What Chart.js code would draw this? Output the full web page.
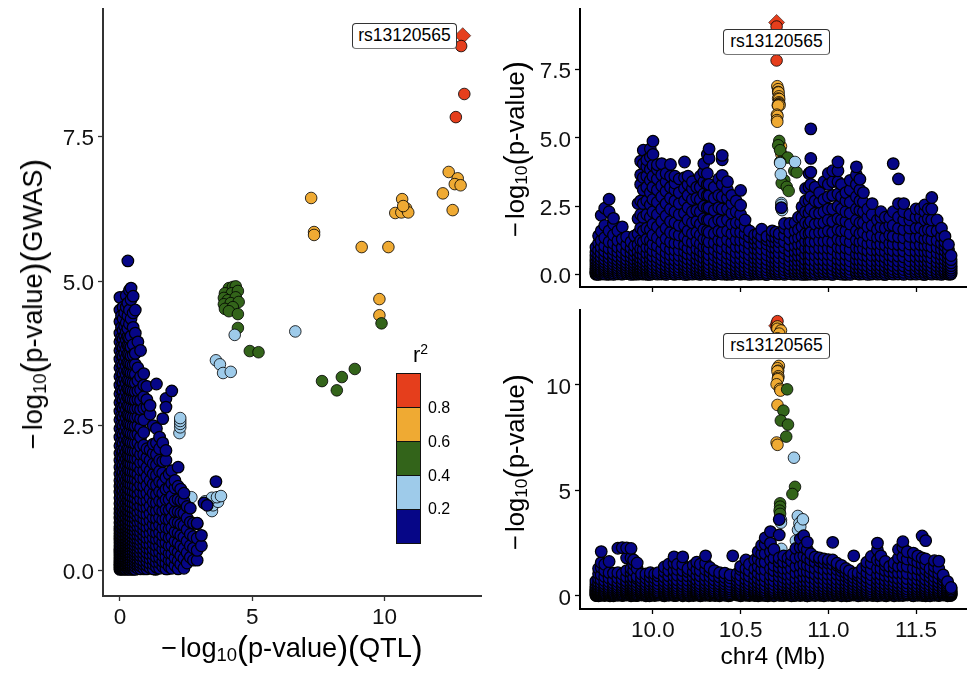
<!DOCTYPE html>
<html><head><meta charset="utf-8">
<script src="https://cdn.jsdelivr.net/npm/chart.js@4"></script>
<style>
html,body{margin:0;padding:0;background:#fff;overflow:hidden}
body{width:979px;height:678px;position:relative;font-family:"Liberation Sans",Arial,sans-serif;color:#000}
canvas{position:absolute}
.t{position:absolute;font-size:26px;white-space:nowrap;line-height:30px;transform:translate(-50%,-50%)}
.t.r{transform:translate(-50%,-50%) rotate(-90deg)}
.t sub{font-size:.68em;line-height:0;vertical-align:-.2em}
.t .p{font-size:1.2em;line-height:0;vertical-align:-.07em}
.t .m{margin-right:3px}
.lab{position:absolute;box-sizing:border-box;background:#fff;border:1px solid #333;border-bottom:1.5px solid #777;border-radius:4px;font-size:17.5px;line-height:23px;text-align:center;white-space:nowrap}
.cb{position:absolute;left:396px;width:25px;box-sizing:border-box;border:1.5px solid #111}
.cbl{position:absolute;left:428px;font-size:16px;line-height:18px}
</style></head><body>
<canvas id="cL" width="490" height="678" style="left:0;top:0"></canvas>
<canvas id="cT" width="489" height="298" style="left:490px;top:0"></canvas>
<canvas id="cB" width="489" height="380" style="left:490px;top:298px"></canvas>
<div id="overlay"></div>
<script>
const rsid="rs13120565";
const legendColors=["#E53E1C","#EFAA33","#33641A","#9ECBEA","#060687"];
const legendLabels=["0.8","0.6","0.4","0.2"];
const ticksLeftX=[0,5,10], ticksLeftY=[0,2.5,5,7.5];
const ticksPosX=[10,10.5,11,11.5], ticksTopY=[0,2.5,5,7.5], ticksBotY=[0,5,10];

// scatter panel: QTL vs GWAS
const leadL=[[12.96,9.25]];
const redL=[[12.9,9.07],[13.02,8.24],[12.7,7.84]];
const orangeL=[[7.23,6.44],[7.34,5.85],[7.34,5.80],[9.14,5.59],[10.15,5.59],[9.81,4.69],[9.81,4.41],[10.67,6.42],[10.41,6.18],[10.64,6.19],[10.82,6.26],[10.9,6.19],[10.71,6.30],[12.21,6.52],[12.43,6.89],[12.77,6.78],[12.66,6.68],[12.88,6.66],[12.58,6.23]];
const greenL=[[9.89,4.27],[4.12,4.88],[4.27,4.90],[4.38,4.91],[3.97,4.79],[4.23,4.79],[4.46,4.83],[3.93,4.71],[4.08,4.67],[4.38,4.72],[3.93,4.60],[4.19,4.62],[4.49,4.64],[3.97,4.52],[4.27,4.55],[4.12,4.48],[4.46,4.43],[4.46,4.19],[4.91,3.79],[5.24,3.77],[7.64,3.27],[8.39,3.34],[8.88,3.48],[8.20,3.11]];
const lightL=[[4.34,4.07],[6.63,4.13],[3.63,3.63],[3.78,3.56],[3.90,3.41],[4.19,3.43],[2.25,2.37],[2.28,2.47],[2.28,2.53],[2.28,2.58],[2.28,2.63],[2.70,1.26],[3.48,1.02],[3.22,1.19],[3.37,1.16],[3.52,1.12],[3.71,1.18],[3.48,1.25],[3.67,1.26],[3.82,1.28]];
const blueL=[
[0,[.01,.04,.07,.1,.14,.17,.21,.25,.29,.33,.37,.42,.47,.52,.57,.63,.69,.75,.82,.9,.98,1.06,1.15,1.25,1.35,1.45,1.55,1.66,1.78,1.9,2.02,2.15,2.3,2.45,2.6,2.75,2.9,3.05,3.2,3.35,3.5,3.65,3.8,3.95,4.1,4.3,4.5,4.72]],
[.06,[.02,.05,.09,.12,.16,.2,.23,.27,.31,.36,.4,.45,.5,.55,.6,.66,.72,.79,.86,.94,1.02,1.11,1.2,1.3,1.4,1.5,1.6,1.72,1.84,1.96,2.08,2.22,2.37,2.52,2.67,2.82,2.97,3.12,3.27,3.42,3.57,3.72,3.87,4.02,4.2,4.4]],
[.12,[.01,.03,.06,.1,.13,.18,.22,.26,.3,.34,.39,.44,.49,.54,.59,.65,.71,.77,.84,.92,1,1.09,1.18,1.28,1.38,1.48,1.58,1.7,1.82,1.94,2.06,2.2,2.35,2.5,2.65,2.8,2.95,3.1,3.25,3.4,3.55,3.7,3.85,4,4.15,4.35,4.55]],
[.18,[.02,.04,.08,.11,.15,.19,.24,.28,.32,.37,.41,.46,.51,.56,.62,.68,.74,.81,.88,.96,1.04,1.13,1.22,1.32,1.42,1.52,1.63,1.75,1.87,1.99,2.11,2.25,2.4,2.55,2.7,2.85,3,3.15,3.3,3.45,3.6,3.75,3.9,4.05,4.22,4.45]],
[.24,[.01,.05,.07,.12,.16,.2,.25,.29,.34,.38,.43,.48,.53,.58,.64,.7,.76,.83,.91,.99,1.07,1.16,1.26,1.36,1.46,1.56,1.68,1.8,1.92,2.04,2.18,2.33,2.48,2.63,2.78,2.93,3.08,3.23,3.38,3.53,3.68,3.83,3.98,4.12,4.28,4.55,4.75]],
[.3,[.02,.06,.09,.13,.18,.22,.27,.31,.36,.4,.45,.5,.56,.61,.67,.73,.8,.87,.95,1.03,1.12,1.21,1.31,1.41,1.51,1.62,1.74,1.86,1.98,2.1,2.24,2.39,2.54,2.69,2.84,2.99,3.14,3.29,3.44,3.59,3.74,3.89,4.04,4.18,4.4,4.62,5.35]],
[.36,[.01,.04,.08,.12,.17,.21,.26,.3,.35,.39,.44,.49,.55,.6,.66,.72,.78,.85,.93,1.01,1.1,1.19,1.29,1.39,1.49,1.6,1.73,1.85,1.97,2.09,2.23,2.38,2.53,2.68,2.83,2.98,3.13,3.28,3.43,3.58,3.73,3.88,4.02,4.26,4.5,4.84]],
[.42,[.03,.06,.1,.15,.19,.24,.28,.33,.38,.43,.48,.53,.59,.65,.71,.77,.84,.92,1,1.08,1.17,1.27,1.37,1.48,1.59,1.71,1.83,1.95,2.07,2.21,2.36,2.51,2.66,2.81,2.96,3.11,3.26,3.41,3.56,3.71,3.86,4.05,4.35,4.68,4.88]],
[.5,[.02,.05,.09,.14,.19,.23,.28,.33,.39,.44,.5,.56,.62,.69,.75,.82,.9,.98,1.06,1.15,1.25,1.36,1.47,1.58,1.7,1.82,1.94,2.06,2.2,2.35,2.5,2.65,2.8,2.95,3.1,3.25,3.4,3.55,3.72,3.9,4.2,4.45,4.74]],
[.58,[.01,.06,.11,.16,.21,.26,.31,.37,.42,.48,.54,.6,.67,.74,.81,.89,.97,1.05,1.14,1.24,1.34,1.45,1.57,1.69,1.81,1.93,2.05,2.19,2.34,2.49,2.64,2.79,2.94,3.09,3.24,3.39,3.56,3.75,4.1,4.5]],
[.68,[.03,.08,.13,.18,.24,.29,.35,.41,.47,.53,.6,.68,.75,.83,.92,1,1.1,1.2,1.31,1.42,1.54,1.66,1.79,1.92,2.05,2.2,2.35,2.5,2.65,2.8,2.95,3.1,3.28,3.5,3.95]],
[.78,[.02,.07,.12,.18,.24,.3,.37,.44,.51,.58,.66,.74,.83,.92,1.02,1.12,1.23,1.35,1.47,1.6,1.73,1.86,2,2.14,2.3,2.46,2.62,2.78,2.94,3.12,3.35,3.8]],
[.9,[.03,.09,.15,.22,.29,.36,.44,.52,.6,.69,.78,.88,.98,1.09,1.2,1.32,1.45,1.58,1.72,1.86,2,2.16,2.38,2.6,2.8,3,3.2,3.4]],
[1.02,[.02,.08,.15,.22,.3,.38,.46,.55,.64,.74,.85,.96,1.08,1.2,1.33,1.47,1.62,1.78,1.95,2.1,2.82,2.95,3.18]],
[1.14,[.04,.11,.19,.27,.35,.44,.54,.64,.75,.86,.98,1.11,1.25,1.39,1.55,1.72,1.9,2.08,2.7,2.85]],
[1.26,[.02,.1,.18,.27,.36,.46,.56,.67,.79,.91,1.04,1.18,1.33,1.49,1.66,1.84,2.02,2.18,2.5]],
[1.38,[.05,.13,.22,.32,.42,.53,.64,.76,.89,1.02,1.16,1.31,1.47,1.64,1.82,2,2.2,2.45,3.22]],
[1.5,[.03,.12,.21,.31,.42,.53,.65,.78,.91,1.05,1.2,1.36,1.53,1.71,1.9,2.1,2.3]],
[1.62,[.06,.15,.25,.36,.48,.6,.73,.87,1.02,1.17,1.33,1.5,1.68,1.88,2.2,2.62]],
[1.74,[.02,.12,.23,.35,.47,.6,.74,.89,1.05,1.22,1.4,1.6,1.9,2.07,2.97,2.82]],
[1.86,[.06,.17,.29,.42,.56,.71,.87,1.04,1.22,1.42,1.66]],
[1.96,[.03,.15,.28,.42,.57,.73,.9,1.08,1.28,1.5,1.72,3.1]],
[2.08,[.08,.21,.35,.5,.66,.83,1.01,1.2,1.42,1.55]],
[2.2,[.02,.16,.31,.47,.64,.82,1.01,1.22,1.45,1.78]],
[2.3,[.1,.25,.42,.6,.79,.99,1.2,1.4]],
[2.42,[.03,.2,.38,.57,.77,.98,1.2,1.33]],
[2.54,[.12,.3,.5,.7,.9,1.1]],
[2.66,[.22,.42,.62,.83,1.07]],
[2.78,[.17,.38,.58,.81]],
[2.92,[.17,.34,.55,.8,.81]],
[3.08,[.42,.6]],[3.18,[1.16]],[3.3,[1.12]],[3.63,[1.53]]
];
const denseL=[
[.03,[.02,.04,.06,.08,.1,.12,.14,.16,.18,.2,.22,.24,.26,.28,.3,.32,.34,.36,.38,.4,.42,.44,.46,.48,.5,.52,.54,.56,.58,.6,.62,.64,.66,.68,.7,.72,.74,.76,.78,.8,.82,.84,.86,.88,.9,.92,.94,.96,.98,1,1.02,1.04,1.06,1.08,1.1,1.12,1.14,1.16,1.18,1.2,1.22,1.24,1.26,1.28,1.3,1.32,1.34,1.36,1.38,1.4,1.42,1.44,1.46,1.48,1.5]],
[.47,[.01,.03,.05,.07,.09,.11,.13,.15,.17,.19,.21,.23,.25,.27,.29,.31,.33,.35,.37,.39,.41,.43,.45,.47,.49,.51,.53,.55,.57,.59,.61,.63,.65,.67,.69,.71,.73,.75,.77,.79,.81,.83,.85,.87,.89,.91,.93,.95,.97,.99,1.01,1.03,1.05,1.07,1.09,1.11,1.13,1.15,1.17,1.19,1.21,1.23,1.25]],
[.91,[.02,.04,.06,.08,.1,.12,.14,.16,.18,.2,.22,.24,.26,.28,.3,.32,.34,.36,.38,.4,.42,.44,.46,.48,.5,.52,.54,.56,.58,.6,.62,.64,.66,.68,.7,.72,.74,.76,.78,.8,.82,.84,.86]],
[1.35,[.01,.03,.05,.07,.09,.11,.13,.15,.17,.19,.21,.23,.25,.27,.29,.31,.33,.35,.37,.39,.41]],
[1.8,[.02,.05,.08,.11,.14,.17,.2,.23,.26]]
];

// position panels
const leadT=[[10.705,9.22]];
const redT=[[10.705,9.07],[10.705,8.24],[10.705,7.83]];
const orangeT=[[10.709,6.89],[10.714,6.78],[10.714,6.68],[10.716,6.66],[10.718,6.52],[10.714,6.44],[10.72,6.42],[10.718,6.30],[10.72,6.26],[10.718,6.23],[10.712,6.19],[10.722,6.19],[10.714,6.18],[10.707,5.85],[10.71,5.80],[10.707,5.65],[10.709,5.59],[10.73,4.69],[10.732,4.41]];
const greenT=[[10.72,4.89],[10.714,4.73],[10.725,4.55],[10.768,4.28],[10.725,4.12],[10.806,3.79],[10.82,3.74],[10.749,3.45],[10.734,3.35],[10.763,3.21],[10.774,3.06]];
const lightT=[[10.81,4.12],[10.725,4.08],[10.729,3.67],[10.732,2.62],[10.732,2.55],[10.736,2.36],[10.831,1.26],[10.845,1.24],[10.822,1.2],[10.837,1.02]];
const blueT=[
[9.675,[.02,.06,.11,.16,.22,.29,.37,.46,.56,.68,.82,1]],
[9.69,[.01,.08,.13,.19,.25,.33,.41,.5,.61,.74,.9,1.15,1.42]],
[9.705,[.03,.07,.12,.18,.26,.34,.43,.53,.65,.8,1,1.25,1.6,2.17]],
[9.725,[.02,.09,.15,.21,.28,.36,.46,.57,.7,.86,1.05,1.35,1.8,2.43]],
[9.75,[.04,.1,.16,.23,.31,.4,.5,.62,.76,.95,1.2,1.6,2.76,2.3]],
[9.775,[.01,.07,.14,.21,.29,.38,.49,.61,.75,.92,1.15,1.45,1.85,2.06]],
[9.8,[.03,.09,.16,.24,.33,.43,.54,.67,.83,1,1.25,1.6]],
[9.825,[.02,.08,.15,.23,.32,.42,.53,.66,.81,1,1.3,1.75]],
[9.85,[.04,.1,.17,.25,.34,.44,.56,.7,.86,1.1,1.38]],
[9.875,[.01,.07,.13,.21,.3,.4,.51,.64,.79,.98,1.2]],
[9.895,[.03,.09,.16,.24,.33,.43,.55,.69,.85,1.05,1.42]],
[9.915,[.02,.08,.14,.22,.31,.41,.53,.67,.85,1.1,1.5,2.05,2.6]],
[9.93,[.04,.1,.17,.25,.35,.46,.59,.75,.95,1.25,1.7,2.2,2.7,3.3,3.65,4.15]],
[9.945,[.02,.07,.14,.22,.32,.43,.56,.72,.92,1.2,1.6,2.1,2.6,3.1,3.55,4.05,4.55]],
[9.965,[.03,.09,.16,.24,.34,.46,.6,.78,1,1.3,1.7,2.2,2.7,3.2,3.6,3.95,4.2]],
[9.985,[.01,.08,.15,.23,.33,.45,.59,.76,.98,1.25,1.65,2.1,2.55,3,3.45,3.85,4.3,4.6]],
[10,[.04,.1,.18,.27,.38,.51,.67,.87,1.12,1.45,1.85,2.3,2.75,3.2,3.6,4,4.4,4.88]],
[10.025,[.02,.08,.15,.24,.35,.48,.63,.82,1.05,1.35,1.75,2.2,2.65,3.1,3.5,3.85,4.02]],
[10.05,[.03,.1,.18,.28,.4,.54,.71,.92,1.2,1.55,1.95,2.4,2.85,3.25,3.65,4.06]],
[10.075,[.01,.07,.14,.23,.34,.47,.62,.8,1.03,1.32,1.7,2.15,2.6,3.05,3.4,3.7]],
[10.1,[.04,.11,.19,.29,.41,.55,.72,.93,1.2,1.55,1.95,2.4,2.8,3.2,3.6,4.03]],
[10.125,[.02,.09,.17,.27,.39,.53,.7,.9,1.15,1.5,1.9,2.3,2.7,3.1,3.35,3.6]],
[10.15,[.03,.1,.18,.28,.4,.54,.7,.9,1.15,1.45,1.8,2.2,2.6,3,3.5]],
[10.18,[.01,.08,.16,.25,.36,.49,.65,.84,1.08,1.4,1.8,2.25,2.7,3.15,3.55,4.12]],
[10.2,[.04,.11,.2,.3,.42,.57,.75,.97,1.25,1.6,2,2.45,2.9,3.3,3.6]],
[10.225,[.02,.09,.17,.27,.39,.53,.7,.91,1.18,1.5,1.9,2.3,2.75,3.15,3.4]],
[10.25,[.03,.1,.19,.29,.41,.56,.74,.95,1.22,1.55,1.95,2.35,2.8,3.2]],
[10.27,[.01,.07,.15,.25,.37,.51,.68,.88,1.13,1.45,1.85,2.3,2.75,3.2,3.6]],
[10.29,[.04,.11,.2,.31,.44,.6,.79,1.02,1.3,1.65,2.05,2.5,2.95,3.4,3.75,4.06]],
[10.31,[.02,.09,.18,.29,.42,.58,.77,1,1.28,1.6,2,2.45,2.9,3.3,3.7,4.4]],
[10.32,[.03,.1,.18,.28,.4,.55,.73,.95,1.2,1.55,2,2.45,2.9,3.3,4.25,4.6]],
[10.35,[.01,.08,.16,.26,.38,.53,.71,.92,1.17,1.5,1.9,2.35,2.8,3.2]],
[10.375,[.04,.11,.2,.31,.44,.6,.78,1,1.27,1.6,2,2.45,2.9,3.5]],
[10.395,[.02,.09,.17,.27,.4,.55,.73,.95,1.22,1.55,1.95,2.4,2.85,3.3,3.63,4.2,4.36]],
[10.425,[.03,.1,.19,.3,.43,.59,.78,1,1.28,1.6,2,2.4,2.8,3.1,3.4]],
[10.45,[.01,.08,.16,.26,.39,.54,.72,.93,1.18,1.5,1.85,2.25,2.6,2.9]],
[10.475,[.04,.11,.2,.31,.45,.61,.8,1.02,1.28,1.58,1.9,2.3,2.7]],
[10.5,[.02,.09,.18,.29,.42,.58,.77,.99,1.25,1.55,1.9,2.2,2.54,3.08]],
[10.525,[.03,.1,.19,.3,.44,.6,.79,1,1.25,1.5,1.75,2]],
[10.55,[.01,.08,.17,.28,.41,.56,.73,.93,1.15,1.38,1.6]],
[10.58,[.04,.11,.2,.31,.44,.59,.76,.95,1.15,1.3,1.45]],
[10.6,[.02,.09,.18,.29,.42,.56,.72,.9,1.1,1.3,1.5]],
[10.62,[.03,.1,.19,.3,.43,.58,.75,.94,1.15,1.4,1.66]],
[10.65,[.01,.08,.17,.28,.41,.56,.73,.92,1.12,1.28,1.4]],
[10.68,[.04,.12,.21,.32,.46,.62,.8,1,1.2,1.4,1.6]],
[10.7,[.02,.09,.18,.3,.43,.58,.76,.96,1.16,1.35,1.55]],
[10.72,[.03,.11,.2,.32,.46,.62,.8,1,1.2,1.36,1.5]],
[10.732,[2.45]],
[10.75,[.01,.08,.18,.3,.44,.6,.78,.98,1.2,1.45,1.7,1.87]],
[10.78,[.04,.12,.22,.35,.5,.67,.86,1.06,1.3,1.55,1.87]],
[10.81,[.02,.1,.2,.33,.48,.65,.84,1.05,1.3,1.6,1.9]],
[10.83,[.03,.11,.21,.34,.5,.68,.88,1.1,1.35,1.65,2.1]],
[10.85,[.01,.09,.19,.32,.48,.66,.87,1.1,1.4,1.75,2.1,2.48]],
[10.87,[.04,.12,.23,.37,.54,.74,.96,1.22,1.5,1.9,2.3,2.7,3.15]],
[10.89,[.02,.1,.21,.35,.52,.72,.95,1.2,1.5,1.85,2.25,2.7,3.2,3.7]],
[10.9,[.03,.11,.22,.36,.53,.73,.96,1.22,1.55,1.95,2.4,2.85,3.3,3.75,4.25,5.33]],
[10.925,[.01,.09,.2,.34,.51,.71,.94,1.2,1.5,1.85,2.25,2.7,3.2]],
[10.95,[.04,.12,.23,.37,.54,.75,.98,1.25,1.55,1.9,2.25,2.65,3]],
[10.975,[.02,.1,.21,.35,.52,.72,.95,1.22,1.55,1.9,2.3,2.75,3.4]],
[11,[.03,.11,.22,.36,.53,.74,.97,1.25,1.6,2,2.4,2.85,3.3,3.7]],
[11.025,[.01,.09,.2,.34,.51,.71,.94,1.2,1.55,1.95,2.4,2.9,3.4,3.8]],
[11.055,[.04,.12,.23,.37,.55,.76,1,1.3,1.65,2.05,2.5,2.95,3.4,3.8,4.12]],
[11.075,[.02,.1,.21,.35,.52,.72,.96,1.25,1.6,2,2.4,2.85,3.3]],
[11.1,[.03,.11,.22,.36,.53,.74,.98,1.27,1.6,1.95,2.3,2.7,3]],
[11.125,[.01,.09,.2,.33,.5,.7,.93,1.2,1.5,1.85,2.25,2.65,3.1,3.45]],
[11.16,[.04,.12,.23,.37,.55,.75,.99,1.27,1.6,2,2.4,2.85,3.3,3.65,3.94]],
[11.18,[.02,.1,.21,.35,.51,.71,.94,1.2,1.5,1.9,2.35,2.7,3.1,3.49]],
[11.2,[.03,.11,.22,.35,.52,.72,.95,1.22,1.55,1.9,2.3,2.65,3]],
[11.225,[.01,.09,.19,.32,.48,.67,.88,1.13,1.42,1.75,2.1,2.4]],
[11.25,[.04,.12,.22,.35,.51,.7,.91,1.15,1.45,1.8,2.2,2.6]],
[11.28,[.02,.1,.2,.33,.48,.66,.87,1.1,1.35,1.65,2]],
[11.3,[.03,.11,.21,.34,.5,.68,.89,1.12,1.4,1.75,2.1,2.3]],
[11.325,[.01,.09,.19,.31,.46,.64,.85,1.08,1.35,1.7,2.1]],
[11.35,[.04,.12,.22,.35,.51,.7,.91,1.15,1.45,1.8,2.1]],
[11.37,[.02,.1,.2,.33,.49,.67,.88,1.12,1.4,1.8,2.3,4.06]],
[11.4,[.03,.11,.21,.34,.5,.68,.88,1.1,1.38,1.7,2.1,2.6,3.5]],
[11.43,[.01,.09,.19,.32,.47,.65,.86,1.08,1.35,1.65,2,2.3,2.6]],
[11.465,[.04,.12,.22,.35,.51,.69,.9,1.12,1.4,1.7,2,2.2]],
[11.5,[.02,.1,.2,.32,.47,.65,.85,1.08,1.35,1.7,2.1,2.4]],
[11.525,[.03,.11,.21,.34,.49,.67,.87,1.1,1.38,1.72,2.1,2.4]],
[11.55,[.01,.09,.19,.31,.46,.63,.83,1.05,1.3,1.6,2,2.3,2.55]],
[11.57,[.04,.11,.21,.33,.48,.65,.84,1.06,1.32,1.65,2.05,2.4]],
[11.59,[.02,.09,.18,.3,.44,.61,.8,1.02,1.28,1.6,2,2.4,2.82]],
[11.62,[.03,.1,.2,.32,.46,.62,.8,1,1.25,1.6,2]],
[11.645,[.01,.08,.17,.28,.41,.56,.73,.93,1.15,1.4,1.7]],
[11.665,[.04,.1,.18,.29,.41,.55,.7,.88,1.05,1.2,1.4]],
[11.685,[.02,.08,.15,.24,.34,.46,.6,.75,.9,1.1]],
[11.7,[.03,.09,.16,.24,.33,.43,.55,.7]]
];
const denseT=[
[9.68,[.02,.06,.1,.14,.18,.22,.26,.3,.34,.38,.42,.46]],[9.745,[.01,.05,.09,.13,.17,.21,.25,.29,.33,.37,.41,.45,.49]],[9.82,[.03,.07,.11,.15,.19,.23,.27,.31,.35,.39,.43]],[9.895,[.02,.06,.1,.14,.18,.22,.26,.3,.34,.38,.42,.46]],[9.97,[.01,.05,.09,.13,.17,.21,.25,.29,.33,.37,.41,.45,.5,.55]],[10.045,[.03,.07,.11,.15,.19,.23,.27,.31,.35,.39,.43,.47,.52]],[10.12,[.02,.06,.1,.14,.18,.22,.26,.3,.34,.38,.42,.46]],[10.195,[.01,.05,.09,.13,.17,.21,.25,.29,.33,.37,.41,.45,.5]],[10.27,[.03,.07,.11,.15,.19,.23,.27,.31,.35,.39,.43,.47]],[10.345,[.02,.06,.1,.14,.18,.22,.26,.3,.34,.38,.42,.46,.51]],[10.42,[.01,.05,.09,.13,.17,.21,.25,.29,.33,.37,.41,.45]],[10.495,[.03,.07,.11,.15,.19,.23,.27,.31,.35,.39,.43,.47]],[10.57,[.02,.06,.1,.14,.18,.22,.26,.3,.34,.38,.42]],[10.645,[.01,.05,.09,.13,.17,.21,.25,.29,.33,.37,.41,.45]],[10.72,[.03,.07,.11,.15,.19,.23,.27,.31,.35,.39,.43]],[10.795,[.02,.06,.1,.14,.18,.22,.26,.3,.34,.38,.42,.46]],[10.87,[.01,.05,.09,.13,.17,.21,.25,.29,.33,.37,.41,.45,.5]],[10.945,[.03,.07,.11,.15,.19,.23,.27,.31,.35,.39,.43,.47]],[11.02,[.02,.06,.1,.14,.18,.22,.26,.3,.34,.38,.42,.46,.52]],[11.095,[.01,.05,.09,.13,.17,.21,.25,.29,.33,.37,.41,.45]],[11.17,[.03,.07,.11,.15,.19,.23,.27,.31,.35,.39,.43,.47]],[11.245,[.02,.06,.1,.14,.18,.22,.26,.3,.34,.38,.42]],[11.32,[.01,.05,.09,.13,.17,.21,.25,.29,.33,.37,.41,.45]],[11.395,[.03,.07,.11,.15,.19,.23,.27,.31,.35,.39,.43,.47]],[11.47,[.02,.06,.1,.14,.18,.22,.26,.3,.34,.38,.42,.46]],[11.545,[.01,.05,.09,.13,.17,.21,.25,.29,.33,.37,.41]],[11.62,[.03,.07,.11,.15,.19,.23,.27,.31,.35,.39]],[11.695,[.02,.06,.1,.14,.18,.22,.26,.3]]
];

const leadB=[[10.705,12.8]];
const redB=[[10.705,12.9],[10.71,13.02],[10.705,12.7]];
const orangeB=[[10.72,12.6],[10.71,12.77],[10.71,12.66],[10.73,12.58],[10.72,12.43],[10.71,12.21],[10.718,10.9],[10.71,10.79],[10.714,10.67],[10.71,10.64],[10.715,10.41],[10.714,10.33],[10.712,10.27],[10.705,10.03],[10.724,9.81],[10.727,9.73],[10.71,9.05],[10.705,7.27],[10.71,7.16]];
const greenB=[[10.765,9.79],[10.744,8.78],[10.729,8.31],[10.77,8.12],[10.76,7.55],[10.81,5.17],[10.795,4.83],[10.725,4.39],[10.725,4.23],[10.722,4.04],[10.725,3.89]];
const lightB=[[10.804,6.55],[10.826,3.79],[10.853,3.6],[10.835,3.44],[10.827,3.13],[10.84,3.28],[10.815,2.62],[10.732,2.23],[10.73,3.6],[10.73,3.47],[10.855,3.63]];
const blueB=[
[9.675,[.02,.05,.09,.13,.18,.23,.29,.36,.44,.55,.7]],
[9.69,[.01,.06,.1,.15,.2,.26,.33,.41,.51,.64,.82,1.05,1.3]],
[9.705,[.03,.07,.12,.17,.23,.3,.38,.48,.6,.76,1,1.35,1.58,2.1]],
[9.725,[.02,.05,.1,.15,.21,.28,.36,.45,.57,.72,.92,1.2,1.5]],
[9.75,[.04,.08,.13,.19,.25,.33,.42,.53,.67,.85,1.1,1.63]],
[9.775,[.01,.06,.11,.16,.22,.29,.38,.48,.6,.76,1.08]],
[9.8,[.03,.07,.12,.18,.25,.33,.42,.53,.67,.85,1.1,2.26]],
[9.825,[.02,.05,.1,.16,.22,.3,.39,.5,.63,.8,1.04,2.29]],
[9.85,[.04,.08,.13,.19,.26,.34,.44,.56,.7,.9,1.2,1.8,2.27]],
[9.875,[.01,.06,.11,.17,.24,.32,.41,.52,.66,.84,1.1,1.3,1.8,2.25]],
[9.89,[.03,.07,.12,.18,.25,.33,.43,.55,.69,.88,1.2,1.5,1.7]],
[9.91,[.02,.05,.1,.16,.23,.31,.4,.51,.65,.82,.92,1.3,1.56]],
[9.935,[.04,.08,.13,.19,.26,.34,.44,.56,.7,.85,1.04]],
[9.96,[.01,.06,.11,.17,.24,.32,.42,.53,.67,.85,1.04]],
[9.985,[.03,.07,.12,.18,.25,.33,.43,.55,.7,.9,1.1]],
[10.01,[.02,.05,.1,.16,.23,.31,.41,.53,.67,.85,1.04]],
[10.03,[.04,.08,.13,.19,.27,.36,.46,.59,.75,.95,1.1]],
[10.065,[.01,.06,.11,.17,.24,.33,.43,.55,.7,.9,1.15,1.37]],
[10.09,[.03,.07,.12,.18,.26,.35,.45,.58,.74,.95,1.2,1.5]],
[10.12,[.02,.05,.1,.16,.24,.33,.43,.56,.72,.93,1.2,1.55,1.85]],
[10.14,[.04,.08,.13,.19,.27,.36,.47,.6,.76,.98,1.25,1.5]],
[10.17,[.01,.06,.11,.17,.25,.34,.45,.58,.74,.95,1.2,1.5,1.85]],
[10.2,[.03,.07,.12,.18,.26,.35,.46,.59,.75,.95,1.15,1.3]],
[10.23,[.02,.05,.1,.16,.24,.33,.43,.55,.7,.9,1.15,1.45]],
[10.25,[.04,.08,.13,.19,.27,.36,.47,.6,.76,.97,1.25,1.6]],
[10.27,[.01,.06,.11,.17,.25,.34,.45,.58,.74,.95,1.2,1.5]],
[10.3,[.03,.07,.12,.18,.26,.35,.46,.59,.75,.96,1.25,1.55,1.9]],
[10.325,[.02,.05,.1,.16,.24,.33,.44,.56,.72,.92,1.15,1.35]],
[10.35,[.04,.08,.13,.19,.27,.36,.47,.6,.76,.96,1.2]],
[10.38,[.01,.06,.11,.17,.25,.34,.45,.57,.72,.9,1.1]],
[10.41,[.03,.07,.12,.18,.26,.35,.45,.57,.71,.88,1.08]],
[10.44,[.02,.05,.1,.16,.24,.33,.43,.55,.69,.86,1]],
[10.455,[1.9]],
[10.48,[.04,.08,.13,.19,.27,.36,.46,.58,.72,.9,1.05]],
[10.5,[.01,.06,.11,.17,.25,.34,.45,.58,.75,.98,1.25,1.4]],
[10.53,[.03,.07,.12,.18,.26,.36,.47,.61,.78,1,1.3,1.7]],
[10.55,[.02,.05,.1,.16,.24,.33,.44,.57,.73,.94,1.2,1.5]],
[10.58,[.04,.08,.13,.19,.27,.36,.47,.6,.78,1,1.28,1.7]],
[10.6,[.01,.06,.11,.17,.25,.35,.47,.62,.82,1.08,1.4,1.75,2.1]],
[10.62,[.03,.07,.13,.2,.29,.4,.54,.72,.95,1.25,1.6,2,2.4]],
[10.64,[.02,.06,.12,.19,.28,.39,.53,.71,.94,1.25,1.6,2,2.45,2.75]],
[10.67,[.04,.09,.15,.22,.31,.42,.56,.74,.98,1.3,1.7,2.1,2.5,3.05]],
[10.69,[.01,.07,.13,.2,.29,.4,.54,.72,.95,1.2,1.45,1.8,2.2]],
[10.72,[.03,.08,.14,.21,.3,.41,.55,.72,.93,1.15,1.35,1.6,1.8,2.89,3.62]],
[10.745,[.02,.06,.12,.19,.28,.38,.51,.67,.87,1.1,1.3,1.6,1.9]],
[10.77,[.04,.09,.15,.23,.32,.44,.58,.76,.98,1.25,1.55,1.8]],
[10.79,[.01,.07,.14,.22,.31,.43,.58,.77,1,1.3,1.65,1.95]],
[10.815,[.03,.08,.15,.23,.33,.46,.62,.82,1.08,1.4,1.8,2.25]],
[10.84,[.02,.06,.13,.21,.32,.45,.61,.81,1.08,1.42,1.85,2.3,2.7]],
[10.86,[.04,.09,.16,.25,.36,.5,.67,.88,1.15,1.5,1.9,2.3,2.85]],
[10.88,[.01,.07,.14,.23,.34,.48,.65,.87,1.15,1.45,1.8,2.2,2.55]],
[10.9,[.03,.08,.15,.24,.35,.49,.66,.87,1.1,1.38,1.7,2]],
[10.925,[.02,.06,.13,.21,.31,.44,.6,.8,1.03,1.3,1.6,1.85]],
[10.95,[.04,.09,.16,.25,.35,.48,.64,.84,1.07,1.35,1.65,1.8]],
[10.975,[.01,.07,.14,.22,.32,.45,.6,.79,1,1.25,1.55,1.75]],
[11,[.03,.08,.15,.23,.33,.46,.61,.8,1.02,1.28,1.55,1.72]],
[11.025,[.02,.06,.13,.21,.31,.43,.58,.76,.98,1.25,1.5,1.7,2.54]],
[11.05,[.04,.09,.16,.24,.34,.46,.61,.79,1.02,1.25,1.45,1.55]],
[11.075,[.01,.07,.14,.22,.32,.44,.59,.77,.97,1.18,1.35,1.45]],
[11.1,[.03,.08,.15,.23,.32,.43,.57,.73,.92,1.1,1.3]],
[11.12,[.02,.06,.13,.2,.29,.4,.53,.68,.85,1,1.2]],
[11.145,[.04,.09,.15,.22,.31,.42,.55,.7,.87,1.05,1.9]],
[11.17,[.01,.07,.13,.2,.28,.38,.5,.64,.8,.97,1.1]],
[11.195,[.03,.08,.14,.21,.29,.39,.51,.66,.84,1.05,1.3]],
[11.22,[.02,.06,.12,.19,.28,.39,.52,.68,.88,1.1,1.4,1.6]],
[11.245,[.04,.09,.15,.23,.33,.45,.6,.78,1,1.25,1.55,1.87]],
[11.28,[.01,.07,.14,.22,.32,.44,.59,.78,1,1.3,1.7,2.18,2.5]],
[11.3,[.03,.08,.15,.23,.33,.46,.61,.8,1.02,1.3,1.65,1.9]],
[11.325,[.02,.06,.13,.2,.3,.42,.56,.74,.96,1.2,1.45,1.63]],
[11.35,[.04,.09,.15,.22,.31,.42,.56,.72,.92,1.15,1.4]],
[11.375,[.01,.07,.13,.2,.28,.39,.52,.68,.88,1.1,1.35,1.56]],
[11.4,[.03,.08,.15,.23,.33,.46,.62,.82,1.08,1.4,1.8,2.2]],
[11.425,[.02,.06,.13,.21,.31,.44,.6,.8,1.06,1.4,1.85,2.3,2.57]],
[11.45,[.04,.09,.15,.23,.33,.46,.62,.82,1.07,1.4,1.75,2.1]],
[11.485,[.01,.07,.13,.21,.3,.42,.57,.76,1,1.3,1.7,2.03]],
[11.51,[.03,.08,.14,.22,.32,.44,.59,.78,1,1.28,1.6,1.9]],
[11.535,[.02,.06,.12,.19,.28,.39,.53,.7,.92,1.2,1.5,1.8,2.84]],
[11.555,[.04,.09,.15,.23,.33,.45,.6,.78,1,1.25,1.5,1.75,2.62]],
[11.58,[.01,.07,.13,.2,.29,.4,.53,.7,.9,1.1,1.3]],
[11.605,[.03,.08,.14,.21,.3,.41,.55,.72,.92,1.15,1.4,1.67]],
[11.63,[.02,.06,.12,.19,.27,.37,.5,.65,.83,1.05,1.3,1.65]],
[11.655,[.04,.08,.13,.19,.27,.36,.47,.6,.75,.9,1]],
[11.68,[.01,.05,.1,.15,.21,.28,.37,.47,.58,.68]],
[11.7,[.03,.06,.1,.14,.19,.25,.32,.4]]
];
const denseB=[
[9.68,[.02,.07,.12,.17,.22,.27,.32,.37]],[9.755,[.01,.06,.11,.16,.21,.26,.31,.36,.41]],[9.83,[.03,.08,.13,.18,.23,.28,.33,.38]],[9.905,[.02,.07,.12,.17,.22,.27,.32,.37,.42]],[9.98,[.01,.06,.11,.16,.21,.26,.31,.36]],[10.055,[.03,.08,.13,.18,.23,.28,.33,.38,.43]],[10.13,[.02,.07,.12,.17,.22,.27,.32,.37]],[10.205,[.01,.06,.11,.16,.21,.26,.31,.36,.41]],[10.28,[.03,.08,.13,.18,.23,.28,.33,.38]],[10.355,[.02,.07,.12,.17,.22,.27,.32,.37,.42]],[10.43,[.01,.06,.11,.16,.21,.26,.31,.36]],[10.505,[.03,.08,.13,.18,.23,.28,.33,.38,.43]],[10.58,[.02,.07,.12,.17,.22,.27,.32,.37]],[10.655,[.01,.06,.11,.16,.21,.26,.31,.36,.41,.46]],[10.73,[.03,.08,.13,.18,.23,.28,.33,.38]],[10.805,[.02,.07,.12,.17,.22,.27,.32,.37,.42]],[10.88,[.01,.06,.11,.16,.21,.26,.31,.36,.41,.46]],[10.955,[.03,.08,.13,.18,.23,.28,.33,.38]],[11.03,[.02,.07,.12,.17,.22,.27,.32,.37,.42]],[11.105,[.01,.06,.11,.16,.21,.26,.31,.36]],[11.18,[.03,.08,.13,.18,.23,.28,.33,.38]],[11.255,[.02,.07,.12,.17,.22,.27,.32,.37,.42]],[11.33,[.01,.06,.11,.16,.21,.26,.31,.36]],[11.405,[.03,.08,.13,.18,.23,.28,.33,.38,.43]],[11.48,[.02,.07,.12,.17,.22,.27,.32,.37]],[11.555,[.01,.06,.11,.16,.21,.26,.31,.36]],[11.63,[.03,.08,.13,.18,.23,.28,.33]],[11.695,[.02,.07,.12,.17,.22,.27]]
];

const expand=cols=>cols.flatMap(c=>c[1].map(y=>({x:c[0],y})));
const pts=a=>a.map(p=>({x:p[0],y:p[1]}));
const [RED,ORANGE,GREEN,LIGHT,BLUE]=legendColors;

function ds(data,color,style,r,bw){
  return {data,pointStyle:style||'circle',pointRadius:r||5.8,pointBackgroundColor:color,pointBorderColor:'#000',pointBorderWidth:bw||(style?0.5:0.8),showLine:false};
}
function panel(id,sets,o){
  const axisTxt={color:'#111',font:{family:'"Liberation Sans"',size:o.tickSize}};
  const sc=(min,max,ticks,fmt,size,isX)=>({
    type:'linear',min,max,
    afterBuildTicks:s=>{s.ticks=ticks.map(v=>({value:v}))},
    afterFit:s=>{if(isX)s.height=size;else s.width=size;s.paddingTop=s.paddingBottom=s.paddingLeft=s.paddingRight=0},
    border:{display:true,color:o.axisColor,width:2},
    grid:{display:true,drawOnChartArea:false,drawTicks:true,tickLength:5,tickColor:o.axisColor,tickWidth:1.3},
    ticks:{color:'#111',font:isX?axisTxt.font:{...axisTxt.font,lineHeight:'5px'},display:!(isX&&o.hideX),padding:isX?3:4,maxRotation:0,autoSkip:false,callback:isX?fmt:(v=>['',fmt(v)])}
  });
  new Chart(document.getElementById(id),{type:'scatter',data:{datasets:sets},options:{
    responsive:false,animation:false,events:[],
    layout:{padding:o.pad},
    plugins:{legend:{display:false},tooltip:{enabled:false}},
    scales:{x:sc(o.xr[0],o.xr[1],o.xt,o.xf,o.xh,true),y:sc(o.yr[0],o.yr[1],o.yt,o.yf,o.yw,false)}
  }});
}
const f1=v=>v.toFixed(1), f0=v=>String(v);
const layers=(blue,dense,light,green,orange,red,lead)=>[ds(expand(blue),BLUE,null,0,1.25),ds(expand(dense),BLUE,null,0,1.25),ds(pts(light),LIGHT),ds(pts(green),GREEN),ds(pts(orange),ORANGE),ds(pts(red),RED),ds(pts(lead),RED,'rectRot',8)];
panel('cL',layers(blueL,denseL,lightL,greenL,orangeL,redL,leadL),
 {pad:{top:8,right:3,left:0,bottom:0},xr:[-0.64,13.67],yr:[-0.45,9.72],xt:ticksLeftX,yt:ticksLeftY,xf:f0,yf:f1,xh:82,yw:103,tickSize:22.5,axisColor:'#333'});
panel('cT',layers(blueT,denseT,lightT,greenT,orangeT,redT,leadT),
 {pad:{top:8,right:13,left:0,bottom:0},xr:[9.584,11.785],yr:[-0.45,9.73],xt:ticksPosX,yt:ticksTopY,xf:f1,yf:f1,xh:11,yw:90,hideX:true,tickSize:22.5,axisColor:'#000'});
panel('cB',layers(blueB,denseB,lightB,greenB,orangeB,redB,leadB),
 {pad:{top:12,right:13,left:0,bottom:0},xr:[9.584,11.785],yr:[-0.62,13.55],xt:ticksPosX,yt:ticksBotY,xf:f1,yf:f0,xh:69,yw:90,tickSize:22.5,axisColor:'#000'});

// text and legend overlays
const ov=document.getElementById('overlay');
const add=(cls,css,html)=>{const d=document.createElement('div');d.className=cls;d.style.cssText=css;d.innerHTML=html;ov.appendChild(d);};
const mlog='<span class="m">\u2212</span>log<sub>10</sub><span class="p">(</span>p-value<span class="p">)</span>';
add('t r','left:33px;top:304px;font-size:27.2px',mlog+'<span class="p">(</span>GWAS<span class="p">)</span>');
add('t','left:292px;top:648px;font-size:27.2px',mlog+'<span class="p">(</span>QTL<span class="p">)</span>');
add('t r','left:515px;top:149px;font-size:25.6px',mlog);
add('t r','left:515px;top:462px;font-size:25.6px',mlog);
add('t','left:773px;top:656px;font-size:24.5px','chr4 (Mb)');
add('lab','left:352px;top:22.5px;width:105px;height:26px',rsid);
add('lab','left:723px;top:28.5px;width:107px;height:26px',rsid);
add('lab','left:723px;top:333px;width:107px;height:26px',rsid);
const tops=[373,407,441,474.5,508.5];
legendColors.forEach((c,i)=>add('cb',`top:${tops[i]}px;height:${(tops[i+1]||542.5)-tops[i]+1}px;background:${c}`,''));
const laby=[399,433,467,500];
legendLabels.forEach((l,i)=>add('cbl',`top:${laby[i]}px`,l));
add('cbl','left:413px;top:343px;font-size:22px;line-height:24px','r<sup style="font-size:14px;line-height:0;vertical-align:8px">2</sup>');
</script>
</body></html>
